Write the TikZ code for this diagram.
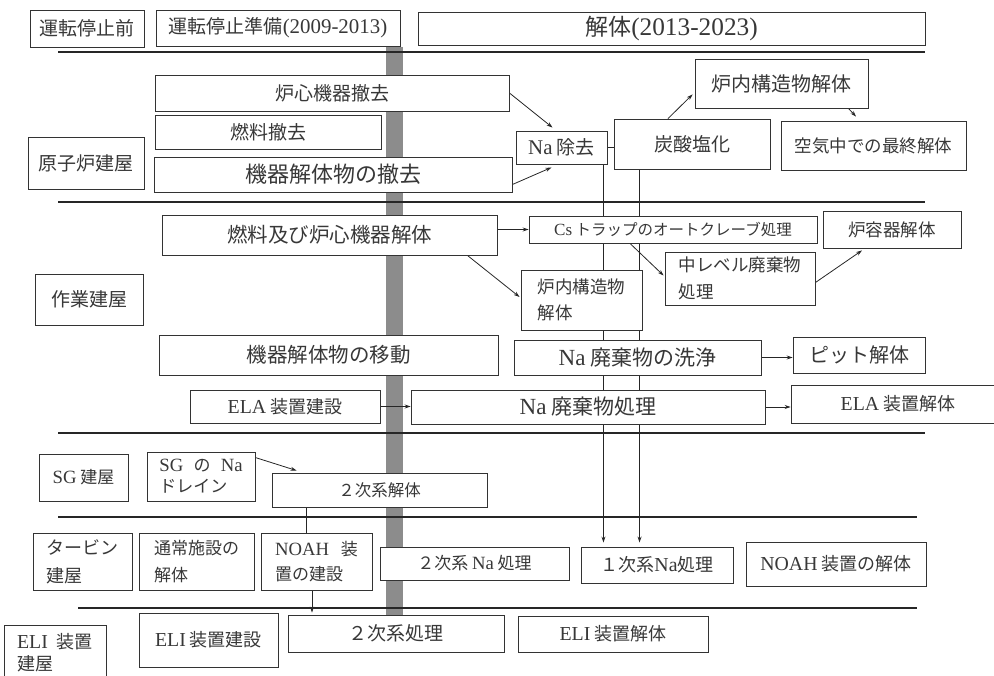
\documentclass[tikz,border=0pt]{standalone}
\usepackage{fontspec}
\setmainfont{Liberation Serif}
\newfontfamily\jp{Noto Sans CJK JP}
\newfontfamily\lat{Liberation Serif}[Scale=1.1]
\usetikzlibrary{arrows.meta,calc}
\pgfdeclarelayer{bg}
\pgfsetlayers{bg,main}
\tikzset{
 box/.style={draw=black!80, line width=0.9pt, fill=white, inner sep=0pt, text=black!78, align=center},
 fs/.style 2 args={font=\jp\fontsize{#1}{#2}\selectfont},
 bx/.style n args={4}{minimum width={(#3-#1)*1pt}, minimum height={(#4-#2)*1pt}, at={({(#1+#3)/2},{(#2+#4)/2})}},
 arr/.style={draw=black!85, line width=0.8pt, -{Stealth[length=6pt,width=4pt]}},
 conn/.style={draw=black!85, line width=0.8pt},
 sep/.style={draw=black!85, line width=1.1pt},
 barfill/.style={fill=black!45},
}
\newcommand\La[1]{{\lat #1}}
\begin{document}
\begin{tikzpicture}[x=1pt,y=-1pt]
\useasboundingbox (0,0) rectangle (994,676);
\begin{pgfonlayer}{bg}
\fill[barfill] (386,47) rectangle (403,640);
\end{pgfonlayer}
% separators
\draw[sep] (58,52) -- (925,52);
\draw[sep] (58,202) -- (925,202);
\draw[sep] (58,433) -- (925,433);
\draw[sep] (58,517) -- (917,517);
\draw[sep] (78,608) -- (917,608);
% header
\node[box, fs={19}{26}, bx={30}{10}{144}{47}] (h1) {運転停止前};
\node[box, fs={19}{26}, bx={156}{10}{400}{46}] (h2) {運転停止準備\La{(2009-2013)}};
\node[box, fs={23}{30}, bx={418}{12}{925}{45}] (h3) {解体\La{(2013-2023)}};
% reactor building
\node[box, fs={19}{26}, bx={28}{137}{144}{189}] (rb) {原子炉建屋};
\node[box, fs={19}{26}, bx={155}{75}{509}{111}] (a1) {炉心機器撤去};
\node[box, fs={19}{26}, bx={155}{115}{381}{149}] (a2) {燃料撤去};
\node[box, fs={22}{28}, bx={154}{157}{512}{192}] (a3) {機器解体物の撤去};
\node[box, fs={19}{26}, bx={516}{131}{607}{164}] (narem) {\La{Na} 除去};
\node[box, fs={19}{26}, bx={614}{119}{770}{169}] (tansan) {炭酸塩化};
\node[box, fs={20}{26}, bx={695}{59}{868}{108}] (r1) {炉内構造物解体};
\node[box, fs={17.5}{24}, bx={781}{121}{966}{170}] (air) {空気中での最終解体};
% work building
\node[box, fs={19}{26}, bx={35}{274}{143}{325}] (wb) {作業建屋};
\node[box, fs={20.5}{26}, bx={162}{215}{497}{255}] (fuel2) {燃料及び炉心機器解体};
\node[box, fs={15.5}{22}, bx={529}{216}{817}{243}] (cs) {\La{Cs} トラップのオートクレーブ処理};
\node[box, fs={17.5}{24}, bx={823}{211}{961}{248}] (rv) {炉容器解体};
\node[box, fs={17.5}{26}, align=left, bx={521}{270}{642}{330}] (r2) {炉内構造物\\解体};
\node[box, fs={17.5}{27}, align=left, bx={665}{252}{815}{305}] (mid) {中レベル廃棄物\\処理};
\node[box, fs={20.5}{26}, bx={159}{335}{498}{375}] (move) {機器解体物の移動};
\node[box, fs={21}{26}, bx={514}{340}{761}{375}] (wash) {\La{Na} 廃棄物の洗浄};
\node[box, fs={20}{26}, bx={793}{337}{925}{373}] (pit) {ピット解体};
\node[box, fs={18}{24}, bx={190}{390}{380}{423}] (elab) {\La{ELA} 装置建設};
\node[box, fs={21}{26}, bx={411}{390}{765}{424}] (natr) {\La{Na} 廃棄物処理};
\node[box, fs={18}{24}, bx={791}{385}{1005}{423}] (elad) {\La{ELA} 装置解体};
% SG building
\node[box, fs={17}{24}, bx={39}{454}{128}{501}] (sgb) {\La{SG} 建屋};
\node[box, fs={17}{21}, align=left, bx={147}{452}{255}{501}] (sgd) {\La{SG}\hspace{0.6em}の\hspace{0.6em}\La{Na}\\ドレイン};
\node[box, fs={16.5}{22}, bx={272}{473}{487}{507}] (ni) {２次系解体};
% turbine building
\node[box, fs={18}{28}, align=left, bx={33}{533}{132}{590}] (tb) {タービン\\建屋};
\node[box, fs={17}{27}, align=left, bx={139}{533}{254}{590}] (tsu) {通常施設の\\解体};
\node[box, fs={17}{25}, align=left, bx={261}{533}{372}{590}] (noahb) {\La{NOAH}\hspace{0.7em}装\\置の建設};
\node[box, fs={17}{24}, bx={380}{547}{569}{580}] (nina) {２次系 \La{Na} 処理};
\node[box, fs={18}{24}, bx={581}{547}{733}{583}] (ichiji) {１次系\La{Na}処理};
\node[box, fs={18}{24}, bx={746}{542}{926}{586}] (noahd) {\La{NOAH} 装置の解体};
% ELI building
\node[box, fs={18}{22}, align=left, bx={4}{625}{106}{680}] (elib) {\La{ELI}\hspace{0.5em}装置\\建屋};
\node[box, fs={18}{24}, bx={139}{613}{278}{667}] (elic) {\La{ELI} 装置建設};
\node[box, fs={19}{24}, bx={288}{615}{504}{652}] (nishori) {２次系処理};
\node[box, fs={18}{24}, bx={518}{616}{708}{652}] (elid) {\La{ELI} 装置解体};
% connectors
\coordinate (v1) at ([xshift=-4pt]narem.south east);
\coordinate (v2) at ([xshift=26pt]tansan.south west);
\coordinate (v3) at ([xshift=35pt]ni.south west);
\coordinate (v4) at ([xshift=-4.5pt]noahb.south);
\begin{pgfonlayer}{bg}
\draw[arr, shorten >=4pt] (v1) -- (v1 |- ichiji.north);
\draw[arr, shorten >=4pt] (v2) -- (v2 |- ichiji.north);
\draw[conn] (v3) -- (v3 |- noahb.north);
\draw[arr, shorten >=2pt] (v4) -- (v4 |- nishori.north);
\draw[arr] (a1.east) -- ([xshift=-9pt,yshift=3pt]narem.north);
\draw[arr] ([yshift=-10pt]a3.east) -- ([xshift=-10pt,yshift=-3pt]narem.south);
\draw[conn] (narem.east) -- (narem.east -| tansan.west);
\draw[arr] ([xshift=-24pt]tansan.north) -- ([xshift=-2pt,yshift=14pt]r1.south west);
\draw[arr] ([xshift=-20pt]r1.south east) -- ([xshift=-17.5pt,yshift=4pt]air.north);
\draw[arr] (cs.west -| fuel2.east) -- (cs.west);
\draw[arr] ([xshift=-30pt]fuel2.south east) -- ([xshift=-1pt,yshift=3pt]r2.west);
\draw[arr] ([xshift=-43pt]cs.south) -- ([xshift=-1pt,yshift=3pt]mid.west);
\draw[arr] ([yshift=-4pt]mid.east) -- ([xshift=-30pt,yshift=-2pt]rv.south);
\draw[arr] (wash.east) -- (wash.east -| pit.west);
\draw[arr] (elab.east) -- (elab.east -| natr.west);
\draw[arr] (natr.east) -- (natr.east -| elad.west);
\draw[arr] ([yshift=-6pt]sgd.north east) -- ([xshift=25pt,yshift=2pt]ni.north west);
\end{pgfonlayer}
\end{tikzpicture}
\end{document}
